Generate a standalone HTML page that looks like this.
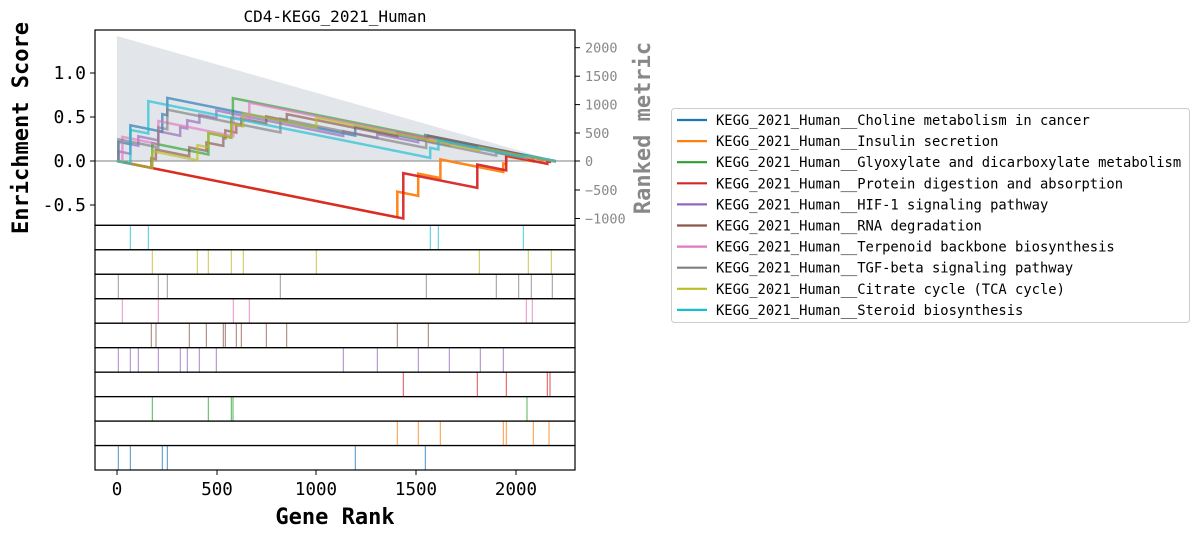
<!DOCTYPE html>
<html><head><meta charset="utf-8"><style>
body{margin:0;background:#fff;width:1200px;height:537px;overflow:hidden}
svg text{font-family:"DejaVu Sans Mono","Liberation Mono",monospace}
</style></head><body>
<svg id="s" width="1200" height="537" xmlns="http://www.w3.org/2000/svg">
<polygon points="117,36 556,161 117,161" fill="#e2e6ea"/>
<line x1="95" y1="161" x2="575" y2="161" stroke="#999" stroke-width="1.2"/>
<g id="curves"></g>
<g id="ticks"></g>
<g id="frames" fill="none" stroke="#000" stroke-width="1.2"></g>
<text x="335" y="22" font-size="16" text-anchor="middle">CD4-KEGG_2021_Human</text>
<g font-size="18" text-anchor="end">
<text x="86" y="79">1.0</text><text x="86" y="123">0.5</text><text x="86" y="167">0.0</text><text x="86" y="211">-0.5</text>
</g>
<g stroke="#000"><line x1="90" y1="73" x2="95" y2="73"/><line x1="90" y1="117" x2="95" y2="117"/><line x1="90" y1="161" x2="95" y2="161"/><line x1="90" y1="205" x2="95" y2="205"/></g>
<text transform="translate(28,128) rotate(-90)" font-size="22" font-weight="bold" text-anchor="middle">Enrichment Score</text>
<g id="rt" font-size="13.5" fill="#888"></g>
<text transform="translate(650,128) rotate(-90)" font-size="22" font-weight="bold" fill="#888" text-anchor="middle">Ranked metric</text>
<g font-size="17.5" text-anchor="middle">
<text x="117" y="495">0</text><text x="217" y="495">500</text><text x="316" y="495">1000</text><text x="416" y="495">1500</text><text x="516" y="495">2000</text>
</g>
<g stroke="#000"><line x1="117" y1="470" x2="117" y2="475"/><line x1="217" y1="470" x2="217" y2="475"/><line x1="316" y1="470" x2="316" y2="475"/><line x1="416" y1="470" x2="416" y2="475"/><line x1="516" y1="470" x2="516" y2="475"/></g>
<text x="335" y="524" font-size="22" font-weight="bold" text-anchor="middle">Gene Rank</text>
<rect x="671.5" y="108.5" width="518" height="214" rx="3" fill="#fff" stroke="#ccc"/>
<g id="leg" font-size="13.8"></g>
</svg>
<script>
(function(){
var C=["#1f77b4","#ff7f0e","#2ca02c","#d62728","#9467bd","#8c564b","#e377c2","#7f7f7f","#bcbd22","#17becf"];
var names=["Choline metabolism in cancer","Insulin secretion","Glyoxylate and dicarboxylate metabolism","Protein digestion and absorption","HIF-1 signaling pathway","RNA degradation","Terpenoid backbone biosynthesis","TGF-beta signaling pathway","Citrate cycle (TCA cycle)","Steroid biosynthesis"];
var H=[
[118.3,130.3,162.3,167.3,355.3,425.3],
[397.3,418.3,440.3,503.3,506.3,533.3,549],
[152.3,208.3,231.3,233,527],
[403.3,477.3,506.3,547.3,550],
[118.3,130.3,138.3,158.3,180.3,187.3,199.3,216.3,343.3,377.3,418.3,449.3,480.3,503.3],
[151.3,156,189.3,206.3,223.3,225.3,236.3,241.3,266.3,286.7,397.3,428.3],
[122.3,158.3,233.3,249.3,526.3,532.3],
[118.3,158.3,167.3,280.3,426.3,496.3,518.7,531.3,552.3],
[152.3,197.3,208.3,231.3,243.3,316.3,479.3,528.3,551.3],
[130.3,148.3,430.3,438.3,523.3]];
var N=2200,sx=0.1995,ns="http://www.w3.org/2000/svg";
function el(t,a,p){var e=document.createElementNS(ns,t);for(var k in a)e.setAttribute(k,a[k]);p.appendChild(e);return e;}
function P(rk,v){return (117+rk*sx).toFixed(1)+","+(161-v*88).toFixed(1);}
var cg=document.getElementById("curves"),tg=document.getElementById("ticks"),fg=document.getElementById("frames"),lg=document.getElementById("leg");
for(var i=0;i<10;i++){
 var r=H[i].map(function(x){return Math.round((x-117)/sx);});
 var w=r.map(function(v){return Math.max(N-v,1);}),sw=w.reduce(function(a,b){return a+b;},0);
 var dec=1/(N-r.length),es=0,prev=0,pts=["117,161"];
 for(var j=0;j<r.length;j++){es-=(r[j]-prev)*dec;pts.push(P(r[j],es));es+=w[j]/sw;pts.push(P(r[j],es));prev=r[j];}
 es-=(N-prev)*dec;pts.push(P(N,es));
 el("polyline",{points:pts.join(" "),fill:"none",stroke:C[i],"stroke-width":2.5,"stroke-opacity":(i==3||i==1)?0.95:0.65},cg);
 var ty=225.3+(9-i)*24.47;
 H[i].forEach(function(x){el("line",{x1:x,y1:ty,x2:x,y2:ty+24.47,stroke:C[i],"stroke-width":1,"stroke-opacity":0.8},tg);});
 el("rect",{x:95,y:ty,width:480,height:24.47},fg);
 var ly=120+i*21.1;
 el("line",{x1:677,y1:ly,x2:707,y2:ly,stroke:C[i],"stroke-width":2.2},lg);
 var t=el("text",{x:716,y:ly+5},lg);t.textContent="KEGG_2021_Human__"+names[i];
}
el("rect",{x:95,y:30,width:480,height:195.3},fg);
var rt=document.getElementById("rt");
[[2000,47.7],[1500,76.2],[1000,104.6],[500,133],[0,161],[-500,190],[-1000,218.5]].forEach(function(a){var t=el("text",{x:585,y:a[1]+5},rt);t.textContent=a[0]<0?"\u2212"+(-a[0]):a[0];el("line",{x1:575,y1:a[1],x2:580,y2:a[1],stroke:"#000"},rt);});
})();
</script>
</body></html>
